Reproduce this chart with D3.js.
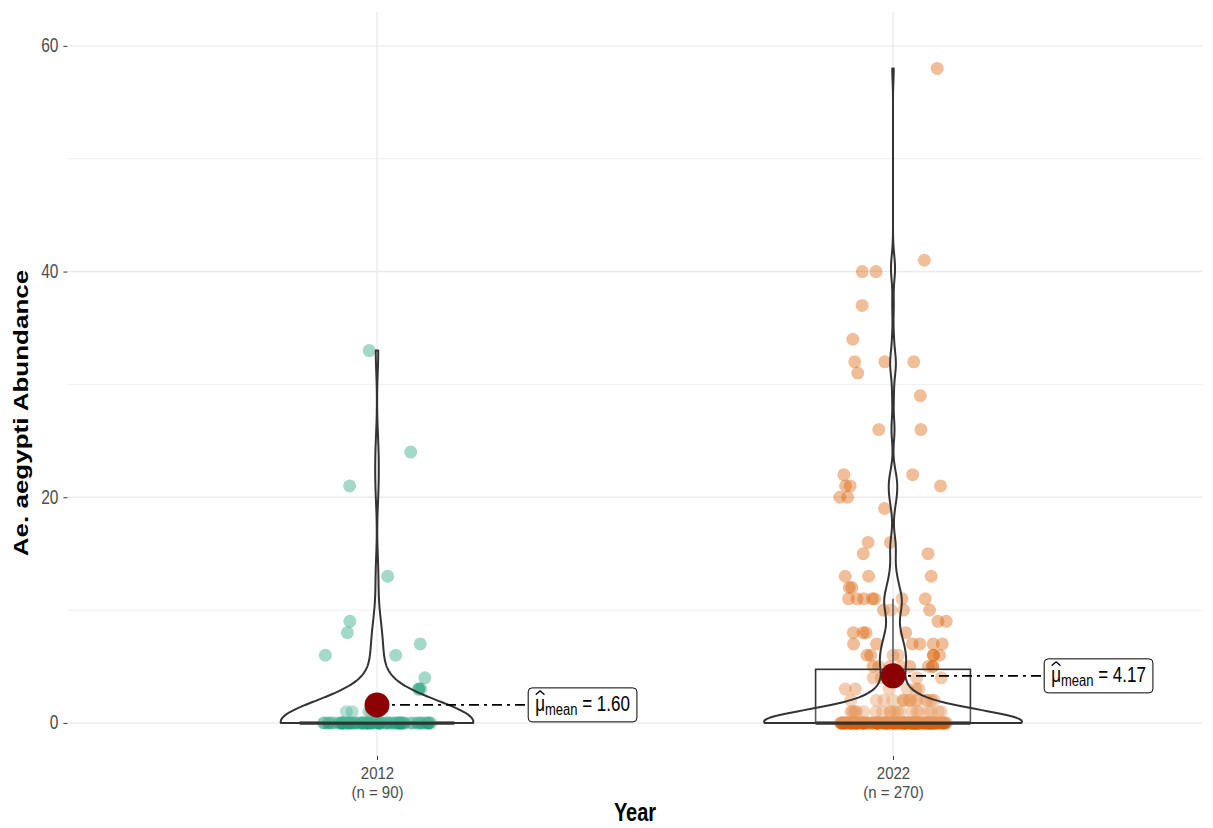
<!DOCTYPE html>
<html>
<head>
<meta charset="utf-8">
<script src="https://cdn.jsdelivr.net/npm/d3@7/dist/d3.min.js"></script>
<style>
  body { margin: 0; background: #fff; }
  text { font-family: "Liberation Sans", Arial, Helvetica, sans-serif; }
</style>
</head>
<body>
<svg id="plot" width="1213" height="828"></svg>
<script>
// ---- data ----
const years = ['2012', '2022'];
const sampleSizes = [90, 270];
const zeroCounts = [73, 156];
const nonZero2012 = [33, 24, 21, 13, 9, 8, 7, 6, 6, 4, 3, 3, 3, 1, 1, 1, 1];
const nonZero2022 = [
  58, 41, 40, 40, 37, 34, 32, 32, 32, 31, 29, 26, 26, 22, 22, 21, 21, 21, 20, 20,
  19, 16, 16, 15, 15, 13, 13, 13, 12, 12,
  11, 11, 11, 11, 11, 11, 11, 10, 10, 10, 10, 9, 9, 8, 8, 8, 8,
  7, 7, 7, 7, 7, 7, 6, 6, 6, 6, 6, 6, 6, 5, 5, 5, 5, 5, 5, 5, 5,
  4, 4, 4, 4, 3, 3, 3, 3, 3, 3,
  2, 2, 2, 2, 2, 2, 2, 2, 2, 2, 2, 2, 2, 2, 2, 2,
  1, 1, 1, 1, 1, 1, 1, 1, 1, 1, 1, 1, 1, 1, 1, 1, 1, 1, 1, 1
];
const yTicks = [0, 20, 40, 60];
const yMinorTicks = [10, 30, 50];
const colors = ['#1B9E77', '#D95F02'];

const groups = years.map((yr, i) => ({
  year: yr,
  n: sampleSizes[i],
  color: colors[i],
  values: (i === 0 ? nonZero2012 : nonZero2022).concat(new Array(zeroCounts[i]).fill(0))
}));

// ---- layout ----
const panel = { left: 67.4, right: 1202.6, top: 12, bottom: 756 };
const stretch = 1.25; // text in the reference is drawn taller than wide
const svg = d3.select('#plot');

const x = d3.scalePoint().domain(years).range([panel.left, panel.right]).padding(0.6);
const step = x.step();
const y = d3.scaleLinear().domain([-2.93, 63]).range([panel.bottom, panel.top]);

// grid
const grid = svg.append('g').attr('class', 'grid');
grid.selectAll('line.minor').data(yMinorTicks).join('line')
  .attr('x1', panel.left).attr('x2', panel.right)
  .attr('y1', d => y(d)).attr('y2', d => y(d))
  .attr('stroke', '#F0F0F0').attr('stroke-width', 1);
grid.selectAll('line.major').data(yTicks).join('line')
  .attr('x1', panel.left).attr('x2', panel.right)
  .attr('y1', d => y(d)).attr('y2', d => y(d))
  .attr('stroke', '#EBEBEB').attr('stroke-width', 1.4);
grid.selectAll('line.vert').data(years).join('line')
  .attr('x1', d => x(d)).attr('x2', d => x(d))
  .attr('y1', panel.top).attr('y2', panel.bottom)
  .attr('stroke', '#EBEBEB').attr('stroke-width', 1.4);

// axes
const yAxis = svg.append('g')
  .attr('transform', `translate(${panel.left},0)`)
  .call(d3.axisLeft(y).tickValues(yTicks).tickSize(4).tickPadding(5));
yAxis.select('.domain').remove();
yAxis.selectAll('.tick line').attr('stroke', '#333');
yAxis.selectAll('.tick text')
  .attr('fill', '#4D4D4D').style('font-size', '15.5px')
  .attr('dy', '0.3em')
  .attr('transform', `scale(1,${stretch})`);

const tickStretch = 1.1;
const xAxis = svg.append('g')
  .attr('transform', `translate(0,${panel.bottom})`)
  .call(d3.axisBottom(x).tickSize(4).tickFormat(''));
xAxis.select('.domain').remove();
xAxis.selectAll('.tick line').attr('stroke', '#333');
xAxis.selectAll('.tick').each(function (d, i) {
  const t = d3.select(this).append('text')
    .attr('fill', '#4D4D4D').attr('text-anchor', 'middle').style('font-size', '15px')
    .attr('transform', `scale(1,${tickStretch})`);
  t.append('tspan').attr('x', 0).attr('y', 23 / tickStretch).text(d);
  t.append('tspan').attr('x', 0).attr('y', 42 / tickStretch).text(`(n = ${groups[i].n})`);
});

svg.append('text')
  .attr('transform', `translate(${(panel.left + panel.right) / 2},821) scale(1,${stretch})`)
  .attr('text-anchor', 'middle').style('font-size', '20px').style('font-weight', 'bold')
  .text('Year');
svg.append('text')
  .attr('transform', `translate(28,413) rotate(-90) scale(1.3,1)`)
  .attr('text-anchor', 'middle').style('font-size', '20px').style('font-weight', 'bold')
  .text('Ae. aegypti Abundance');

// ---- stats ----
function bwNrd0(v) {
  const sd = d3.deviation(v);
  const iqr = d3.quantile(v, 0.75) - d3.quantile(v, 0.25);
  let lo = Math.min(sd, iqr / 1.34);
  if (!lo) lo = sd || Math.abs(v[0]) || 1;
  return 0.9 * lo * Math.pow(v.length, -0.2);
}
function density(v, bw, lo, hi, n) {
  const k = 1 / (Math.sqrt(2 * Math.PI) * bw * v.length);
  return d3.range(n).map(j => {
    const t = lo + (hi - lo) * j / (n - 1);
    let s = 0;
    for (const xi of v) { const z = (t - xi) / bw; s += Math.exp(-0.5 * z * z); }
    return [t, s * k];
  });
}
groups.forEach(g => {
  const sorted = g.values.slice().sort(d3.ascending);
  g.q1 = d3.quantile(sorted, 0.25);
  g.med = d3.quantile(sorted, 0.5);
  g.q3 = d3.quantile(sorted, 0.75);
  const iqr = g.q3 - g.q1;
  g.whiskHi = d3.max(sorted.filter(v => v <= g.q3 + 1.5 * iqr));
  g.whiskLo = d3.min(sorted.filter(v => v >= g.q1 - 1.5 * iqr));
  g.mean = d3.mean(sorted);
  g.dens = density(sorted, bwNrd0(sorted), d3.min(sorted), d3.max(sorted), 512);
});
const maxDens = d3.max(groups, g => d3.max(g.dens, d => d[1]));

// ---- jittered points ----
const rng = d3.randomLcg(0.4217);
const pts = svg.append('g').attr('class', 'points');
groups.forEach(g => {
  pts.selectAll(null).data(g.values).join('circle')
    .attr('cx', () => x(g.year) + (rng() * 2 - 1) * 0.105 * step)
    .attr('cy', d => y(d))
    .attr('r', 6.5)
    .attr('fill', g.color)
    .attr('fill-opacity', 0.4);
});

// ---- boxplots ----
const boxW = 0.3 * step;
const boxes = svg.append('g').attr('class', 'boxes');
groups.forEach(g => {
  const cx = x(g.year);
  const b = boxes.append('g');
  b.append('line').attr('x1', cx).attr('x2', cx)
    .attr('y1', y(g.q3)).attr('y2', y(g.whiskHi))
    .attr('stroke', '#333').attr('stroke-width', 1.6);
  b.append('line').attr('x1', cx).attr('x2', cx)
    .attr('y1', y(g.q1)).attr('y2', y(g.whiskLo))
    .attr('stroke', '#333').attr('stroke-width', 1.6);
  b.append('rect')
    .attr('x', cx - boxW / 2).attr('width', boxW)
    .attr('y', y(g.q3)).attr('height', Math.max(0, y(g.q1) - y(g.q3)))
    .attr('fill', '#fff').attr('fill-opacity', 0.2)
    .attr('stroke', '#333').attr('stroke-width', 1.6);
  b.append('line')
    .attr('x1', cx - boxW / 2).attr('x2', cx + boxW / 2)
    .attr('y1', y(g.med)).attr('y2', y(g.med))
    .attr('stroke', '#333').attr('stroke-width', 3.5);
});

// ---- violins ----
const vHalf = 0.25 * step;
const violins = svg.append('g').attr('class', 'violins');
groups.forEach(g => {
  const cx = x(g.year);
  const w = d3.scaleLinear().domain([0, maxDens]).range([0, vHalf]);
  const right = g.dens.map(d => [cx + w(d[1]), y(d[0])]);
  const left = g.dens.slice().reverse().map(d => [cx - w(d[1]), y(d[0])]);
  violins.append('path')
    .attr('d', d3.line()(right.concat(left)) + 'Z')
    .attr('fill', '#fff').attr('fill-opacity', 0.2)
    .attr('stroke', '#333').attr('stroke-width', 2)
    .attr('stroke-linejoin', 'round');
});

// ---- means + labels ----
const meanG = svg.append('g').attr('class', 'means');
groups.forEach(g => {
  const cx = x(g.year);
  const my = y(g.mean);
  const lx = cx + 0.293 * step;
  meanG.append('line')
    .attr('x1', cx).attr('x2', lx).attr('y1', my).attr('y2', my)
    .attr('stroke', '#000').attr('stroke-width', 1.6)
    .attr('stroke-dasharray', '10,5,3,5');
  meanG.append('circle').attr('cx', cx).attr('cy', my).attr('r', 12.5).attr('fill', '#8B0000');

  const lab = meanG.append('g').attr('transform', `translate(${lx},${my})`);
  const rect = lab.append('rect').attr('fill', '#fff').attr('stroke', '#000')
    .attr('stroke-width', 1).attr('rx', 4).attr('ry', 4);
  const inner = lab.append('g').attr('transform', `translate(7,6) scale(1,${stretch})`);
  const t = inner.append('text').attr('x', 0).attr('y', 0)
    .style('font-size', '17px').attr('fill', '#000');
  t.append('tspan').text('\u03BC');
  t.append('tspan').attr('dy', 3.5).style('font-size', '13px').text('mean');
  t.append('tspan').attr('dy', -3.5).text(' = ' + d3.format('.2f')(g.mean));
  // wide hat over mu
  const muW = t.node().getSubStringLength(0, 1);
  inner.append('path')
    .attr('d', `M0.5,-13 L${muW / 2},-16 L${muW - 0.5},-13`)
    .attr('fill', 'none').attr('stroke', '#000').attr('stroke-width', 1.1);
  const bb = t.node().getBBox();
  rect.attr('x', 0).attr('y', -17).attr('width', bb.width + 14).attr('height', 34);
});
</script>
</body>
</html>
